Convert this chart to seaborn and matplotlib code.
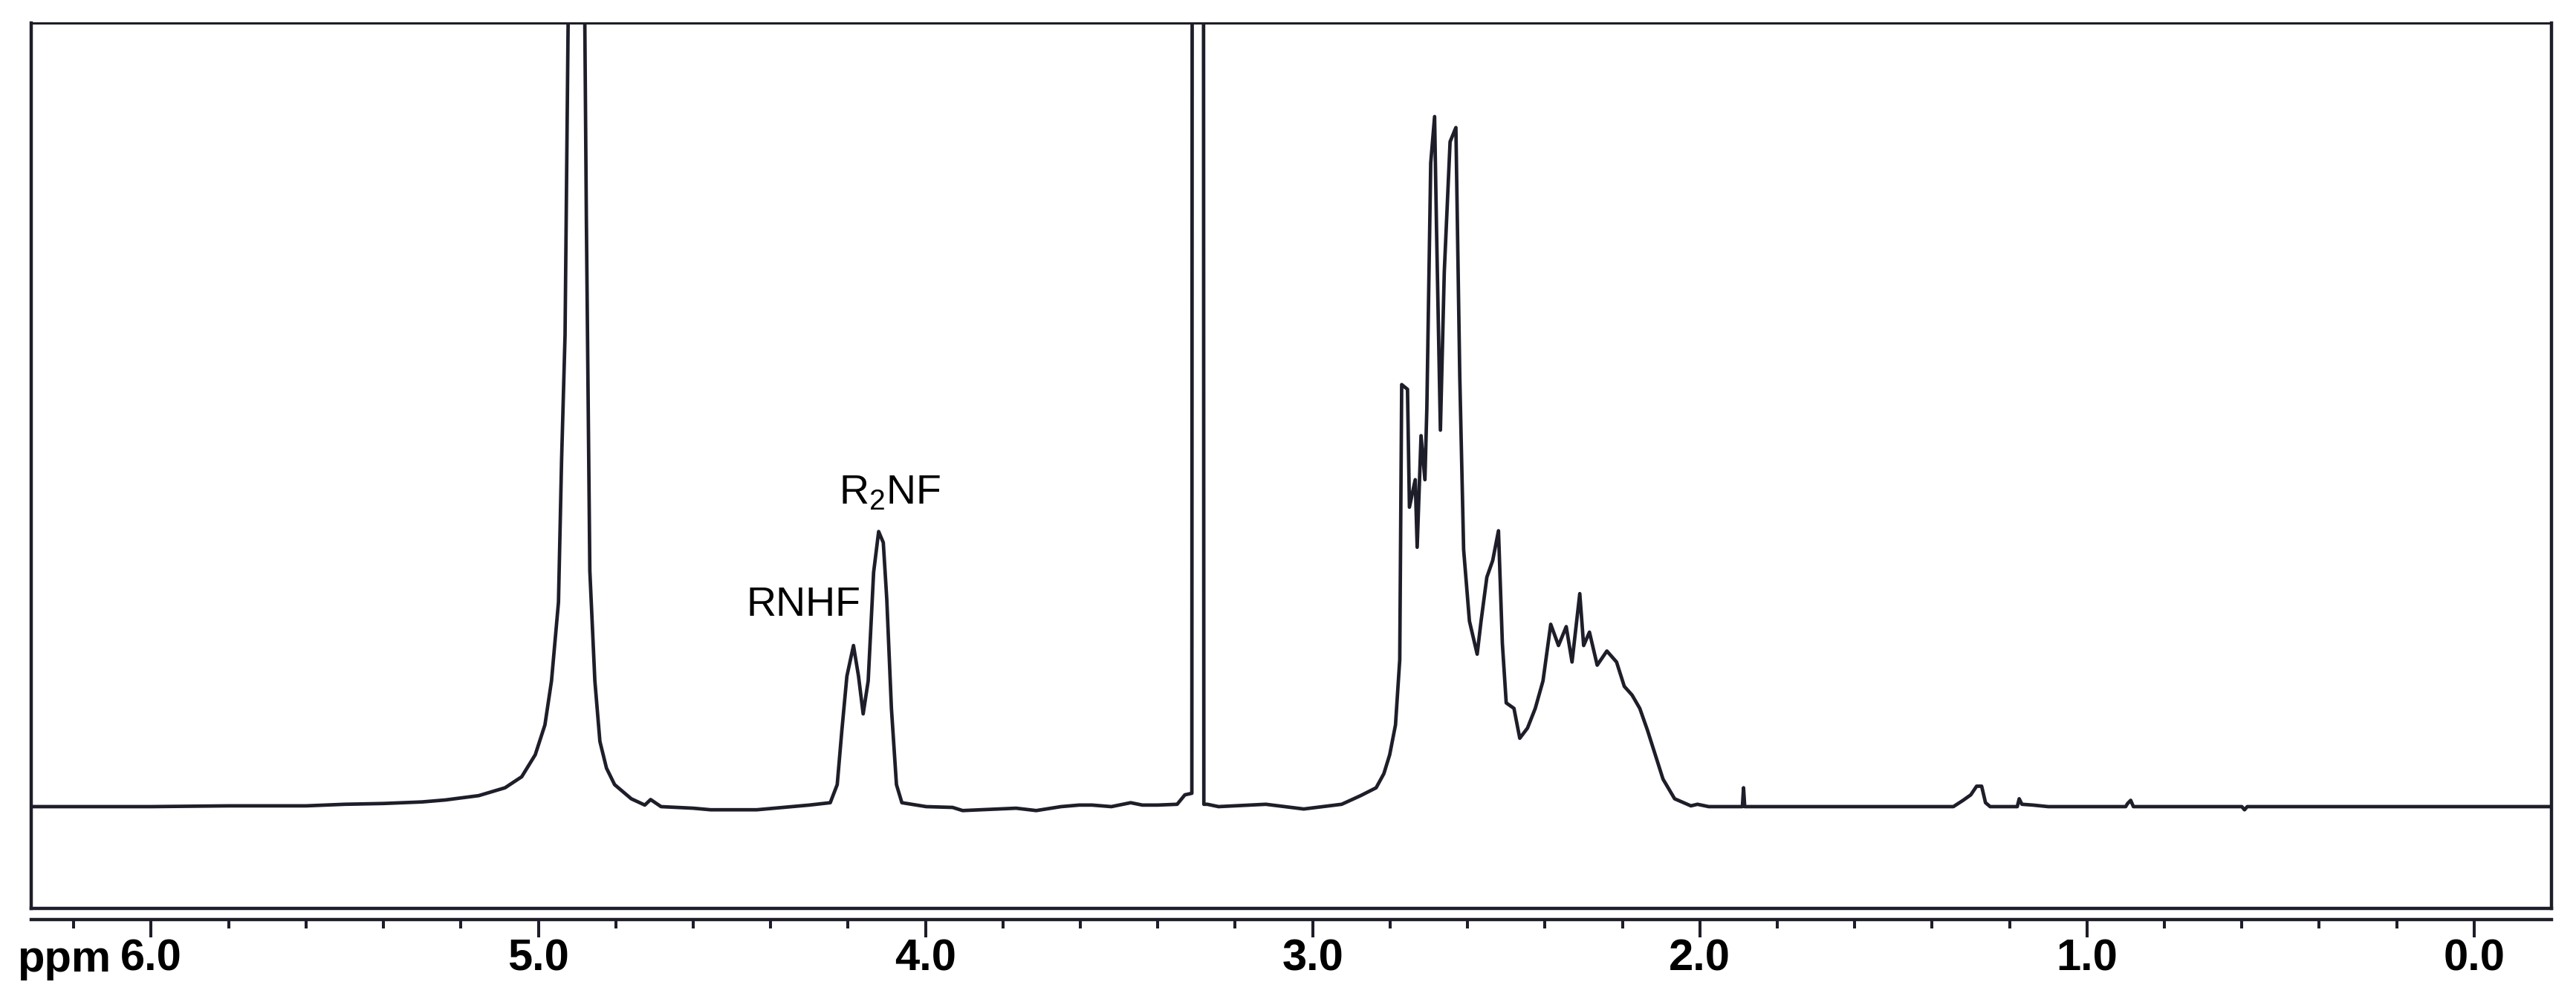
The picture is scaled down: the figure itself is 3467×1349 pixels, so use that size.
import numpy as np
import pandas as pd
import seaborn as sns
import matplotlib.pyplot as plt
from matplotlib import transforms

# 1H NMR trace (ppm, relative intensity; 0 = baseline)
ppm_water = [6.31, 6.0, 5.8, 5.6, 5.5, 5.4, 5.3, 5.24, 5.154, 5.086, 5.043, 5.008,
             4.983, 4.966, 4.948, 4.940, 4.931, 4.923, 4.921, 4.882, 4.880, 4.876,
             4.867, 4.854, 4.841, 4.824, 4.803, 4.760, 4.725, 4.71, 4.683]
int_water = [0.0, 0.0, 0.1, 0.1, 0.3, 0.4, 0.6, 0.85, 1.4, 2.4, 3.8, 6.6,
             10.4, 16, 26, 44, 60, 100, 250, 250, 100, 75,
             30, 16, 8.3, 4.9, 2.8, 1.0, 0.2, 0.9, 0.0]

ppm_nf = [4.60, 4.555, 4.436, 4.30, 4.246, 4.228, 4.216, 4.203, 4.186, 4.173,
          4.161, 4.148, 4.134, 4.121, 4.109, 4.100, 4.088, 4.075, 4.061, 3.998,
          3.93, 3.904, 3.766, 3.714, 3.65, 3.603, 3.570, 3.52, 3.470, 3.44,
          3.40, 3.35, 3.330]
int_nf = [-0.2, -0.4, -0.4, 0.2, 0.5, 2.8, 9.7, 16.6, 20.5, 16.6,
          11.8, 16, 29.8, 35, 33.6, 26.4, 12.5, 2.8, 0.5, 0.0,
          -0.1, -0.5, -0.2, -0.5, 0.0, 0.2, 0.2, 0.0, 0.5, 0.2,
          0.2, 0.3, 1.5]

ppm_alkyl = [3.312, 3.310, 3.283, 3.281, 3.272, 3.243, 3.121, 3.023, 2.925, 2.876,
             2.836, 2.816, 2.801, 2.786, 2.775, 2.770, 2.755, 2.750, 2.735, 2.730,
             2.720, 2.710, 2.705, 2.695, 2.685, 2.680, 2.670, 2.660, 2.645, 2.630,
             2.620, 2.610, 2.595, 2.575, 2.565, 2.550, 2.535, 2.520, 2.510, 2.500,
             2.480, 2.465, 2.445, 2.425, 2.405, 2.385, 2.365, 2.345, 2.330, 2.310,
             2.300, 2.285, 2.265, 2.240, 2.215, 2.195, 2.175, 2.155, 2.135, 2.115,
             2.095, 2.065, 2.023]
int_alkyl = [1.7, 250, 250, 0.3, 0.3, 0.0, 0.3, -0.3, 0.3, 1.4,
             2.4, 4.2, 6.6, 10.4, 18.7, 53.7, 53.1, 38.1, 41.6, 33,
             47.2, 41.6, 50.7, 81.9, 87.8, 73.5, 47.9, 68, 84.6, 86.4,
             54.8, 32.7, 23.6, 19.4, 23.6, 29.2, 31.3, 35.1, 20.8, 13.2,
             12.5, 8.7, 10, 12.5, 16, 23.2, 20.5, 22.9, 18.4, 27.1,
             20.5, 22.2, 18, 19.8, 18.4, 15.3, 14.2, 12.5, 9.7, 6.6,
             3.5, 1.0, 0.1]

ppm_high = [2.006, 1.977, 1.890, 1.887, 1.884, 1.345, 1.32, 1.30, 1.285, 1.272,
            1.262, 1.25, 1.18, 1.175, 1.168, 1.14, 1.10, 0.90, 0.895, 0.887,
            0.880, 0.60, 0.593, 0.586, -0.20]
int_high = [0.3, 0.0, 0.0, 2.4, 0.0, 0.0, 0.8, 1.5, 2.6, 2.6,
            0.5, 0.0, 0.0, 1.0, 0.3, 0.2, 0.0, 0.0, 0.4, 0.8,
            0.0, 0.0, -0.4, 0.0, 0.0]

major_ticks = [0, 1, 2, 3, 4, 5, 6]
major_labels = ["0.0", "1.0", "2.0", "3.0", "4.0", "5.0", "6.0"]
minor_ticks = [round(0.2 * i, 1) for i in range(1, 32) if i % 5 != 0]

peak_labels = ["RNHF", "R$_2$NF"]
peak_label_x = [4.315, 4.092]
peak_label_y = [24.3, 38.5]

df = pd.DataFrame({
    "ppm": ppm_water + ppm_nf + ppm_alkyl + ppm_high,
    "intensity": int_water + int_nf + int_alkyl + int_high,
})

sns.set_style("white")
plt.rcParams['font.family'] = ['Liberation Sans', 'DejaVu Sans']
plt.rcParams['mathtext.fontset'] = 'custom'
plt.rcParams['mathtext.rm'] = 'Liberation Sans'
plt.rcParams['mathtext.default'] = 'regular'

ink = "#1e1e2a"
tick_font = ['Liberation Sans Narrow', 'Liberation Sans', 'DejaVu Sans']

fig = plt.figure(figsize=(34.67, 13.49), dpi=100)
ax = fig.add_axes([0.0121, 0.0934, 0.9784, 0.8836])

sns.lineplot(data=df, x="ppm", y="intensity", sort=False, estimator=None,
             color=ink, linewidth=3.4, ax=ax)
ax.set_xlim(6.31, -0.20)
ax.set_ylim(-12.95, 99.7)
ax.set_xticks([])
ax.set_yticks([])
ax.set_xlabel("")
ax.set_ylabel("")
for s in ax.spines.values():
    s.set_visible(True)
    s.set_color(ink)
    s.set_linewidth(3.2)
ax.spines['top'].set_linewidth(2.2)

for txt, xv, yv in zip(peak_labels, peak_label_x, peak_label_y):
    ax.text(xv, yv, txt, ha='center', va='baseline', fontsize=40, color='black')

# separate ppm scale under the frame
sec = ax.secondary_xaxis(-0.0126)
sec.set_xticks(major_ticks, labels=major_labels, fontweight='bold',
               fontfamily=tick_font)
sec.set_xticks(minor_ticks, minor=True)
sec.tick_params(which='major', length=17, width=2.9, direction='out', pad=1,
                labelsize=43, color=ink, labelcolor='black')
sec.tick_params(which='minor', length=8.6, width=2.9, direction='out', color=ink)
sec.spines['bottom'].set_linewidth(3.2)
sec.spines['bottom'].set_color(ink)

trans = transforms.blended_transform_factory(ax.transData, ax.transAxes)
ax.text(6.104, -0.0713, "ppm", transform=trans, ha='right', va='baseline',
        fontsize=43, fontweight='bold', family=tick_font, color='black')

fig.savefig("out.png", dpi=100, facecolor='white')
